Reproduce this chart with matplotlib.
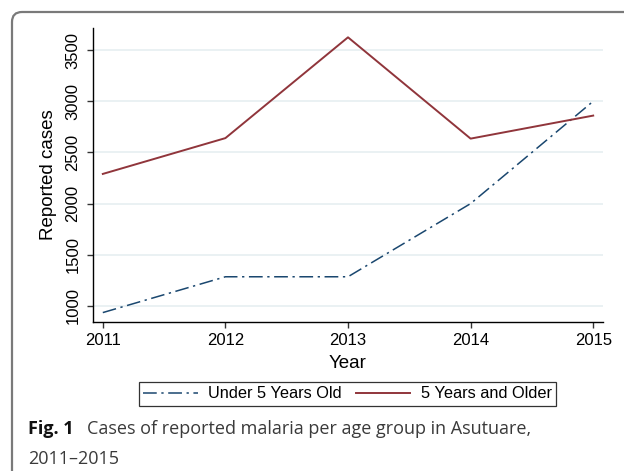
import matplotlib
matplotlib.use("Agg")
import matplotlib.pyplot as plt
from matplotlib.path import Path
from matplotlib.patches import PathPatch

# Reported malaria cases, Asutuare
years = [2011, 2012, 2013, 2014, 2015]
under_five = [935, 1285, 1285, 2000, 3000]
five_and_older = [2290, 2640, 3625, 2635, 2860]
y_ticks = [1000, 1500, 2000, 2500, 3000, 3500]

navy = "#1a476f"
maroon = "#90353b"

plt.rcParams['font.family'] = ['Liberation Sans', 'DejaVu Sans']

W, H = 624, 474
fig = plt.figure(figsize=(W / 100, H / 100), dpi=100)

# rounded frame around the figure (left and top edges only)
def fx(px):
    return px / W

def fy(py):
    return 1 - py / H

r = 10
verts = [(fx(12), fy(471)), (fx(12), fy(12 + r)), (fx(12), fy(12)), (fx(12 + r), fy(12)), (fx(630), fy(12))]
codes = [Path.MOVETO, Path.LINETO, Path.CURVE3, Path.CURVE3, Path.LINETO]
frame = PathPatch(Path(verts, codes), transform=fig.transFigure, fill=False,
                  edgecolor="#7a7a7a", linewidth=1.6, clip_on=False)
fig.patches.append(frame)

ax = fig.add_axes([fx(93), fy(322), fx(603) - fx(93), fy(28) - fy(322)])
ax.plot(years, under_five, color=navy, linewidth=1.1,
        linestyle=(0, (9, 3, 1.5, 3)), label="Under 5 Years Old")
ax.plot(years, five_and_older, color=maroon, linewidth=1.4,
        label="5 Years and Older")

ax.set_xlim(2010.92, 2015.08)
ax.set_ylim(843, 3716)
ax.set_xticks(years)
ax.set_yticks(y_ticks)
ax.set_yticklabels([str(v) for v in y_ticks], rotation=90, va="center")
ax.tick_params(axis="both", labelsize=12, length=4, width=1, color="#333333")
ax.tick_params(axis="y", pad=5)
ax.tick_params(axis="x", pad=4)
ax.grid(axis="y", color="#e8f0f2", linewidth=1.3)
ax.set_axisbelow(True)
for s in ["top", "right"]:
    ax.spines[s].set_visible(False)
for s in ["left", "bottom"]:
    ax.spines[s].set_linewidth(1.0)

ax.set_xlabel("Year", fontsize=13.5, labelpad=5)
ax.set_ylabel("Reported cases", fontsize=13.5, labelpad=6)

leg = fig.legend(loc="center", bbox_to_anchor=(fx(347.5), fy(394)), ncol=2,
                 fontsize=11.8, frameon=True, fancybox=False, handlelength=3.3,
                 handletextpad=0.65, columnspacing=0.85, borderpad=0.3,
                 borderaxespad=0)
leg.get_frame().set_edgecolor("black")
leg.get_frame().set_linewidth(0.9)

# caption
cap_font = ['Open Sans', 'DejaVu Sans']
t1 = fig.text(fx(28), fy(429), "Fig. 1", fontsize=13, fontweight="bold",
              family=cap_font, color="#111111", va="center")
fig.canvas.draw()
bb = t1.get_window_extent()
fig.text(bb.x1 / W + fx(13), fy(429), "Cases of reported malaria per age group in Asutuare,",
         fontsize=13, family=cap_font, color="#3a3a3a", va="center")
fig.text(fx(28), fy(459), "2011\u20132015", fontsize=13, family=cap_font,
         color="#3a3a3a", va="center")

fig.savefig("out.png", dpi=100)
